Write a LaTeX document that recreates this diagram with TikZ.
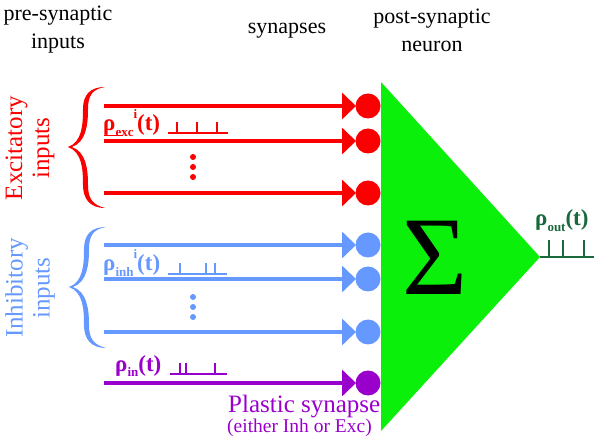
\documentclass[tikz,border=0pt]{standalone}
\usepackage{fontspec}
\setmainfont{Liberation Serif}
\usetikzlibrary{arrows.meta}
\definecolor{exccol}{RGB}{250,0,0}
\definecolor{inhcol}{RGB}{102,153,255}
\definecolor{placol}{RGB}{153,0,204}
\definecolor{neurcol}{RGB}{10,240,10}
\definecolor{outcol}{RGB}{25,105,60}
\newcommand\lsub[1]{\raisebox{-0.22em}{\fontsize{13}{13}\selectfont #1}}
\newcommand\lsup[1]{\raisebox{0.55em}{\fontsize{13}{13}\selectfont #1}}
\begin{document}
\begin{tikzpicture}[x=1pt,y=-1pt,
  syn/.style={circle, fill=#1, minimum size=25pt, inner sep=0pt, outer sep=0pt},
  inarrow/.style={draw=#1, line width=4pt, -{Triangle[length=14pt,width=26pt]}, shorten >=-0.5pt},
  train/.style={draw=#1, line width=1.4pt},
  rholab/.style={anchor=base west, inner sep=0pt, text=#1, font=\bfseries\fontsize{23}{23}\selectfont},
  head/.style={align=center, font=\fontsize{22}{28}\selectfont},
  sidelab/.style={rotate=90, align=center, text=#1, font=\fontsize{25}{27}\selectfont},
  bracepic/.pic={\fill[#1]
     (37,-60) .. controls (22,-60) and (15,-52) .. (15,-38)
     .. controls (15,-22) and (14,-5) .. (0,0)
     .. controls (14,5) and (15,22) .. (15,38)
     .. controls (15,52) and (22,61) .. (37,61)
     .. controls (25,58) and (20,52) .. (20,38)
     .. controls (20,22) and (18,5) .. (4,0)
     .. controls (18,-5) and (20,-22) .. (20,-38)
     .. controls (20,-52) and (25,-58) .. (37,-60) -- cycle;},
  ]
\useasboundingbox (0,0) rectangle (600,446);

% headers
\node[head] (hpre) at (58,30) {pre-synaptic\\inputs};
\node[head] (hsyn) at (287,31) {synapses};
\node[head] (hpost) at (432,30) {post-synaptic\\neuron};

% neuron
\coordinate (ttop) at (381,82);
\coordinate (apex) at (540,257);
\coordinate (tbot) at (381,431);
\fill[neurcol] (ttop) -- (apex) -- (tbot) -- cycle;
\node[anchor=base, inner sep=0pt, font=\fontsize{112}{112}\selectfont] (sigma) at (435,295) {Σ};

% output
\coordinate (oend) at (594,257);
\draw[train=outcol] (apex) -- (oend);
\draw[train=outcol] (549,257) -- (549,240) (563,257) -- (563,240) (584,257) -- (584,240);
\node[rholab=outcol] (lout) at (535,226) {ρ\lsub{out}(t)};

% side labels and braces
\node[sidelab=exccol] (lexcside) at (30,148) {Excitatory\\inputs};
\node[sidelab=inhcol] (linhside) at (30,288) {Inhibitory\\inputs};
\pic at (68,147) {bracepic=exccol};
\pic at (69,287) {bracepic=inhcol};

% excitatory synapses
\node[syn=exccol] (se1) at (368,106) {};
\node[syn=exccol] (se2) at (368,141) {};
\node[syn=exccol] (se3) at (368,193) {};
\coordinate (ae1) at (104,106);
\coordinate (ae2) at (104,141);
\coordinate (ae3) at (104,193);
\draw[inarrow=exccol] (ae1) -- (se1.west);
\draw[inarrow=exccol] (ae2) -- (se2.west);
\draw[inarrow=exccol] (ae3) -- (se3.west);
\node[rholab=exccol] (lexc) at (103,131) {ρ\lsub{exc}\lsup{i}(t)};
\draw[train=exccol] (168,133) -- (228,133) (177,133) -- (177,122) (197,133) -- (197,122) (217,133) -- (217,122);
\draw[exccol, line width=1.2pt] (104,135.5) -- (123,135.5);
\fill[exccol] (193,157) circle (3) (193,167) circle (3) (193,177) circle (3);

% inhibitory synapses
\node[syn=inhcol] (si1) at (368,245) {};
\node[syn=inhcol] (si2) at (368,279) {};
\node[syn=inhcol] (si3) at (368,332) {};
\coordinate (ai1) at (104,245);
\coordinate (ai2) at (104,279);
\coordinate (ai3) at (104,332);
\draw[inarrow=inhcol] (ai1) -- (si1.west);
\draw[inarrow=inhcol] (ai2) -- (si2.west);
\draw[inarrow=inhcol] (ai3) -- (si3.west);
\node[rholab=inhcol] (linh) at (103,271) {ρ\lsub{inh}\lsup{i}(t)};
\draw[train=inhcol] (168,274) -- (227,274) (180,274) -- (180,263) (206,274) -- (206,263) (215,274) -- (215,263);
\fill[inhcol] (193,297) circle (3) (193,307) circle (3) (193,317) circle (3);

% plastic synapse
\node[syn=placol] (sp) at (368,383) {};
\coordinate (ap) at (104,383);
\draw[inarrow=placol] (ap) -- (sp.west);
\node[rholab=placol] (lin) at (115,371) {ρ\lsub{in}(t)};
\draw[train=placol] (170,374) -- (227,374) (180,374) -- (180,363) (186,374) -- (186,363) (215,374) -- (215,363);
\node[anchor=base west, inner sep=0pt, text=placol, font=\fontsize{25}{25}\selectfont] (lplast) at (228,413) {Plastic synapse};
\node[anchor=base west, inner sep=0pt, text=placol, font=\fontsize{19.5}{20}\selectfont] (lplast2) at (227,432) {(either Inh or Exc)};
\end{tikzpicture}
\end{document}
